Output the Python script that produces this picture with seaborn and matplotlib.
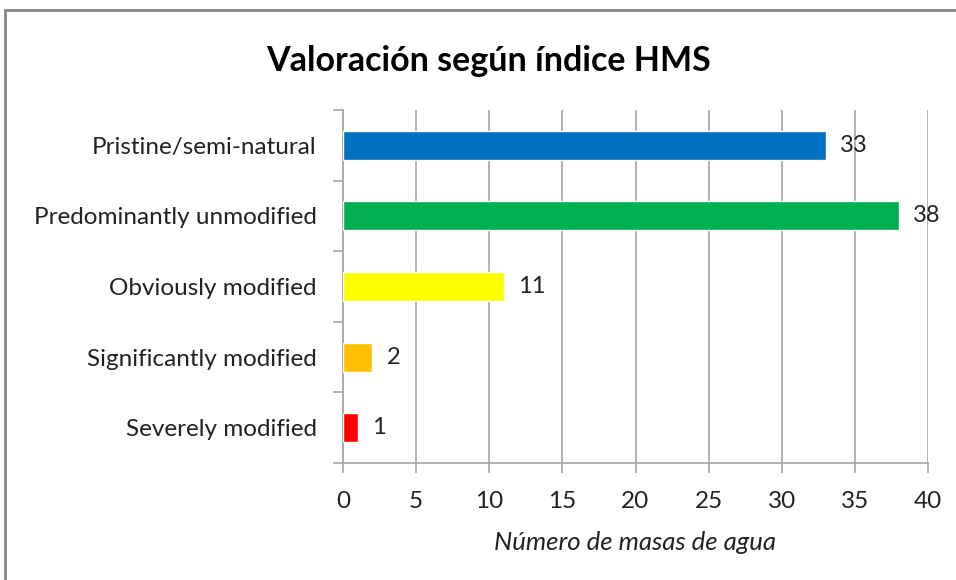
import matplotlib as mpl
mpl.use('Agg')
import matplotlib.pyplot as plt
import matplotlib.patches as patches
import seaborn as sns
import pandas as pd

categories = ['Pristine/semi-natural', 'Predominantly unmodified', 'Obviously modified',
              'Significantly modified', 'Severely modified']
values = [33, 38, 11, 2, 1]
bar_colors = ['#0070C0', '#00B050', '#FFFF00', '#FFC000', '#FF0000']
title = 'Valoración según índice HMS'
xlabel = 'Número de masas de agua'

sns.set_style('white')
plt.rcParams['font.family'] = ['Lato', 'DejaVu Sans']

df = pd.DataFrame({'cat': categories, 'n': values})

fig = plt.figure(figsize=(9.56, 5.8), dpi=100)
ax = fig.add_axes([343 / 956, 1 - 463 / 580, (928 - 343) / 956, (463 - 110) / 580])

sns.barplot(data=df, y='cat', x='n', hue='cat', palette=bar_colors, order=categories,
            hue_order=categories, legend=False, width=0.41, saturation=1, ax=ax, zorder=3)

# value labels
for i, v in enumerate(values):
    ax.text(v + 1.0, i, str(v), va='center', ha='left', fontsize=17, color='#222222', zorder=4)

ax.set_xlim(0, 40)
ax.set_xticks(range(0, 41, 5))
ax.set_ylim(len(categories) - 0.5, -0.5)
ax.set_yticks([i - 0.5 for i in range(len(categories) + 1)], minor=False)
ax.set_yticklabels([])
ax.set_yticks(range(len(categories)), minor=True)
ax.set_yticklabels(categories, minor=True)

ax.grid(axis='x', color='#a6a6a6', linewidth=1.2, zorder=0)
ax.grid(axis='y', visible=False)

for s in ['top', 'right']:
    ax.spines[s].set_visible(False)
for s in ['left', 'bottom']:
    ax.spines[s].set_color('#a6a6a6')
    ax.spines[s].set_linewidth(1.2)

ax.tick_params(axis='y', which='major', direction='out', length=7.2, width=1.2, color='#a6a6a6', left=True)
ax.tick_params(axis='y', which='minor', length=0, pad=19, labelsize=17.5, labelcolor='#222222')
ax.tick_params(axis='x', direction='out', length=7.2, width=1.2, color='#a6a6a6', bottom=True,
               pad=13, labelsize=17.5, labelcolor='#222222')

ax.set_ylabel('')
ax.set_xlabel(xlabel, fontsize=18.5, style='italic', color='#222222', labelpad=14)

fig.text(0.511, 0.894, title, ha='center', va='center', fontsize=24.5, fontweight='bold', color='black')

# outer chart border
fig.patches.append(patches.Rectangle((5 / 956, -0.1), 1.2, 1 - 10 / 580 + 0.1, transform=fig.transFigure,
                                     fill=False, edgecolor='#868686', linewidth=2))

fig.savefig('out.png', dpi=100)
